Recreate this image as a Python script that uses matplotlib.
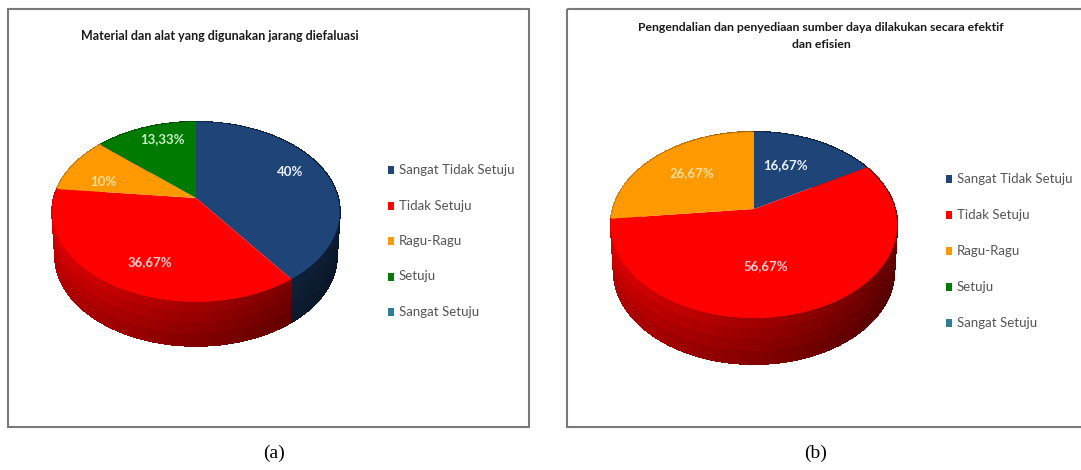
import matplotlib
matplotlib.use("Agg")
import numpy as np
import matplotlib.pyplot as plt
from matplotlib.collections import PolyCollection
from matplotlib.colors import to_rgb
from matplotlib.patches import Rectangle
from matplotlib.transforms import Transform

W, H = 1081, 470

# data
categories = ["Sangat Tidak Setuju", "Tidak Setuju", "Ragu-Ragu", "Setuju", "Sangat Setuju"]
colors = ["#1F4478", "#FE0000", "#FF9900", "#007A00", "#2E7D9A"]
values_a = [40, 36.67, 10, 13.33, 0]
values_b = [16.67, 56.67, 26.67, 0, 0]
title_a = "Material dan alat yang digunakan jarang diefaluasi"
title_b = "Pengendalian dan penyediaan sumber daya dilakukan secara efektif\ndan efisien"

FONT = ["Lato", "DejaVu Sans"]


class Persp(Transform):
    # unit circle pie -> tilted disc on screen, pixel coords
    input_dims = output_dims = 2

    def __init__(self, cx, cy, a, b, p):
        super().__init__()
        self.cx, self.cy, self.a, self.b, self.p = cx, cy, a, b, p

    def transform_non_affine(self, pts):
        pts = np.asarray(pts, dtype=float)
        k = 1 / (1 + self.p * pts[:, 1])
        return np.column_stack([self.cx + self.a * pts[:, 0] * k,
                                self.cy - self.b * pts[:, 1] * k])


fig = plt.figure(figsize=(W / 100, H / 100), dpi=100)
ax = fig.add_axes([0, 0, 1, 1])


def draw_pie(values, cx, cy, a, b, p, depth, label_pos, label_colors):
    persp = Persp(cx, cy, a, b, p)
    wedges, _ = ax.pie(values, colors=colors, startangle=90, counterclock=False,
                       wedgeprops={"linewidth": 0})
    # side wall first, back to front
    quads = []
    for w, col in zip(wedges, colors):
        if w.theta2 - w.theta1 <= 0:
            continue
        base = np.array(to_rgb(col))
        th = np.radians(np.linspace(w.theta1, w.theta2, 120))
        rim = persp.transform_non_affine(np.column_stack([np.cos(th), np.sin(th)]))
        for i in range(len(th) - 1):
            t = (rim[i, 0] - (cx - a)) / (2 * a)
            for j in range(4):
                h0, h1 = j / 4, (j + 1) / 4 + 0.02
                shade = (0.86 - 0.46 * t) * (1 - 0.06 * j)
                s0, s1 = 1 - 0.02 * h0, 1 - 0.02 * h1
                quads.append((rim[i, 1], [
                    (cx + (rim[i, 0] - cx) * s0, rim[i, 1] + depth * h0),
                    (cx + (rim[i + 1, 0] - cx) * s0, rim[i + 1, 1] + depth * h0),
                    (cx + (rim[i + 1, 0] - cx) * s1, rim[i + 1, 1] + depth * h1),
                    (cx + (rim[i, 0] - cx) * s1, rim[i, 1] + depth * h1),
                ], base * shade))
    quads.sort(key=lambda q: q[0])
    cols = [q[2] for q in quads]
    ax.add_collection(PolyCollection([q[1] for q in quads], facecolors=cols, edgecolors=cols,
                                     linewidths=0.8, antialiased=False, zorder=2))
    for w in wedges:
        w.set_transform(persp + ax.transData)
        w.set_zorder(3)
    shown = [v for v in values if v > 0]
    for v, pos, c in zip(shown, label_pos, label_colors):
        ax.text(pos[0], pos[1], f"{v:g}%".replace(".", ","), color=c, fontsize=9.5,
                family=FONT, weight="bold", ha="center", va="center", zorder=4)


def draw_legend(x, y0, step):
    for i, (name, col) in enumerate(zip(categories, colors)):
        y = y0 + i * step
        ax.add_patch(Rectangle((x, y - 4), 6, 8, facecolor=col, edgecolor="none"))
        ax.text(x + 11, y, name, color="#555555", fontsize=9.5, family=FONT,
                ha="left", va="center")


draw_pie(values_a, 196, 198, 142, 87.8, 0.155, 43,
         [(290, 172), (150, 262), (103, 182), (162, 139)],
         ["#E8F0FA", "#FFD0D0", "#FFE0A0", "#C8F0C8"])
draw_pie(values_b, 754, 209, 141, 90.3, 0.172, 45,
         [(785, 165), (766, 266), (692, 173)],
         ["#E8F0FA", "#FFD0D0", "#FFE0A0"])

# panel frames, the right one runs off the picture
for x0, x1 in [(8, 529), (567, 1095)]:
    ax.add_patch(Rectangle((x0, 9), x1 - x0, 418, facecolor="none", edgecolor="#7A7A7A",
                           linewidth=1.5, zorder=5))

draw_legend(388, 170, 35.5)
draw_legend(946, 179, 36)

ax.text(220, 36, title_a, color="#1A1A1A", fontsize=9, weight="bold", family=FONT,
        ha="center", va="center")
ax.text(821, 36, title_b, color="#1A1A1A", fontsize=8.8, weight="bold", family=FONT,
        ha="center", va="center", linespacing=1.7)
ax.text(274, 453, "(a)", fontsize=14, family="Liberation Serif", ha="center", va="center")
ax.text(816, 453, "(b)", fontsize=14, family="Liberation Serif", ha="center", va="center")

ax.set_aspect("auto")
ax.set_xlim(0, W)
ax.set_ylim(H, 0)
ax.axis("off")

fig.savefig("out.png", dpi=100, facecolor="white")
